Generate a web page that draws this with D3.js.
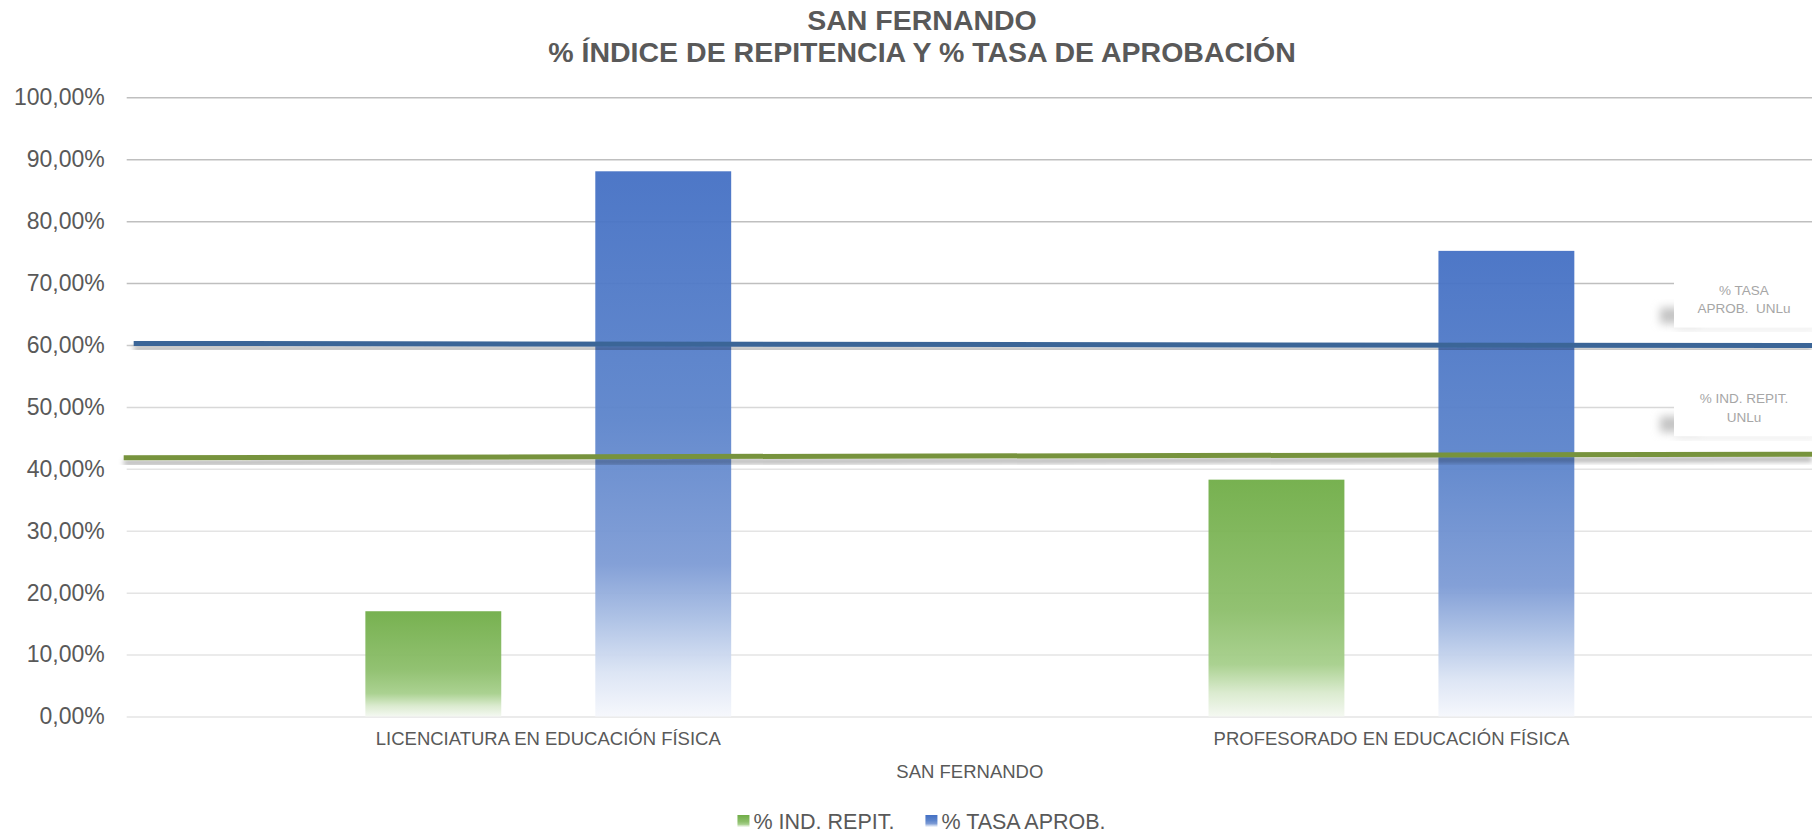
<!DOCTYPE html>
<html>
<head>
<meta charset="utf-8">
<script src="https://cdn.jsdelivr.net/npm/d3@7"></script>
<style>
  body { margin: 0; background: #fff; }
  text { font-family: "Liberation Sans", Arial, sans-serif; fill: #595959; }
</style>
</head>
<body>
<svg id="chart" width="1812" height="838"></svg>
<script>
// data
const categories = ['LICENCIATURA EN EDUCACIÓN FÍSICA', 'PROFESORADO EN EDUCACIÓN FÍSICA']
const seriesNames = ['% IND. REPIT.', '% TASA APROB.']
const indRepit = [0.17, 0.3825]
const tasaAprob = [0.8805, 0.752]
const yTicks = [0, 0.1, 0.2, 0.3, 0.4, 0.5, 0.6, 0.7, 0.8, 0.9, 1]

// UNLu reference lines (hand drawn, slightly tilted)
const refNames = [['% TASA', 'APROB.  UNLu'], ['% IND. REPIT.', 'UNLu']]
const refStart = [0.6025, 0.418]
const refEnd = [0.599, 0.4235]

const titleLines = ['SAN FERNANDO', '% ÍNDICE DE REPITENCIA Y % TASA DE APROBACIÓN']
const axisTitle = 'SAN FERNANDO'

const width = 1812
const plotLeft = 126.7
const plotRight = 1813
const colors = { '% IND. REPIT.': 'green', '% TASA APROB.': 'blue' }
const refColors = ['#3b6597', '#77933c']
const refOffsets = [7, -3]

const svg = d3.select('#chart')
const defs = svg.append('defs')

const addGradient = (id, stops) => {
    const g = defs.append('linearGradient')
        .attr('id', id)
        .attr('x1', 0).attr('y1', 0).attr('x2', 0).attr('y2', 1)
    g.selectAll('stop')
        .data(stops)
        .join('stop')
        .attr('offset', d => d[0])
        .attr('stop-color', d => d[1])
}
addGradient('green', [[0, '#70ad47'], [0.55, '#8cbe6a'], [0.78, '#a6cf8b'], [0.9, '#d9eacd'], [1, '#f4f8f1']])
addGradient('blue', [[0, '#4470c4'], [0.45, '#5c84cb'], [0.72, '#7d9bd5'], [0.82, '#aabfe4'], [0.92, '#dbe4f4'], [1, '#f5f7fc']])

const lineShadow = defs.append('filter').attr('id', 'lineShadow')
    .attr('x', '-5%').attr('y', '-200%').attr('width', '110%').attr('height', '500%')
lineShadow.append('feDropShadow')
    .attr('dx', 0).attr('dy', 5).attr('stdDeviation', 2.5)
    .attr('flood-color', '#000').attr('flood-opacity', 0.32)

const blur = defs.append('filter').attr('id', 'blur')
    .attr('x', '-50%').attr('y', '-50%').attr('width', '200%').attr('height', '200%')
blur.append('feGaussianBlur').attr('stdDeviation', 4)

const y = d3.scaleLinear().domain([0, 1]).range([716.5, 97.3])
const x0 = d3.scaleBand().domain(categories).range([plotLeft, plotRight]).padding(0)
const x1 = d3.scaleBand().domain(seriesNames).range([0, x0.bandwidth()])
    .paddingInner(0.409).paddingOuter(1.038)

const locale = d3.formatLocale({ decimal: ',', thousands: '.', grouping: [3], currency: ['$', ''] })
const pct = locale.format('.2%')
const gridColor = d3.scaleLinear().domain([0.4, 0.7]).range(['#e4e4e4', '#bfbfbf']).clamp(true)

// y axis + gridlines
const yAxis = svg.append('g')
    .attr('transform', `translate(${plotLeft},0)`)
    .call(d3.axisLeft(y).tickValues(yTicks).tickFormat(pct)
        .tickSize(-(width - plotLeft)).tickPadding(22))
yAxis.select('.domain').remove()
yAxis.selectAll('.tick line')
    .attr('stroke', d => gridColor(d))
    .attr('stroke-width', 1.5)
yAxis.selectAll('.tick text')
    .style('font-size', '23px')
    .attr('fill', '#595959')

// bars
const table = categories.map((c, i) => ({ category: c, values: [
    { key: seriesNames[0], value: indRepit[i] },
    { key: seriesNames[1], value: tasaAprob[i] }
] }))

svg.append('g')
    .selectAll('g')
    .data(table)
    .join('g')
    .attr('transform', d => `translate(${x0(d.category)},0)`)
    .selectAll('rect')
    .data(d => d.values)
    .join('rect')
    .attr('x', d => x1(d.key))
    .attr('y', d => y(d.value))
    .attr('width', x1.bandwidth())
    .attr('height', d => y(0) - y(d.value))
    .attr('fill', d => `url(#${colors[d.key]})`)
    .attr('fill-opacity', 0.95)

// reference lines
svg.append('g')
    .selectAll('line')
    .data(refStart)
    .join('line')
    .attr('x1', (d, i) => plotLeft + refOffsets[i])
    .attr('x2', width)
    .attr('y1', d => y(d))
    .attr('y2', (d, i) => y(refEnd[i]))
    .attr('stroke', (d, i) => refColors[i])
    .attr('stroke-width', 5)
    .attr('filter', 'url(#lineShadow)')

// label boxes for the reference lines
const boxW = 140
const boxH = 58
const boxes = svg.append('g')
    .selectAll('g')
    .data(refNames)
    .join('g')
    .attr('transform', (d, i) => `translate(${width - boxW + 2},${y(refEnd[i]) - 18 - boxH})`)
boxes.append('rect')
    .attr('x', -14).attr('y', boxH - 20)
    .attr('width', 40).attr('height', 16)
    .attr('fill', '#c4c4c4')
    .attr('filter', 'url(#blur)')
boxes.append('rect')
    .attr('x', 2).attr('y', boxH - 2)
    .attr('width', boxW).attr('height', 4)
    .attr('fill', '#e2e2e2')
    .attr('filter', 'url(#blur)')
boxes.append('rect')
    .attr('width', boxW).attr('height', boxH)
    .attr('fill', '#fff')
boxes.selectAll('text')
    .data(d => d)
    .join('text')
    .attr('x', boxW / 2)
    .attr('y', (d, i) => 25 + i * 18.5)
    .attr('text-anchor', 'middle')
    .style('font-size', '13.5px')
    .style('white-space', 'pre')
    .style('fill', '#a6a6a6')
    .text(d => d)

// category labels
const xAxis = svg.append('g')
    .attr('transform', `translate(0,${y(0)})`)
    .call(d3.axisBottom(x0).tickSize(0).tickPadding(15))
xAxis.select('.domain').remove()
xAxis.selectAll('.tick text')
    .style('font-size', '18.5px')
    .attr('fill', '#595959')

svg.append('text')
    .attr('x', (plotLeft + plotRight) / 2)
    .attr('y', 778)
    .attr('text-anchor', 'middle')
    .style('font-size', '18.5px')
    .text(axisTitle)

// title
svg.append('g')
    .selectAll('text')
    .data(titleLines)
    .join('text')
    .attr('x', 922)
    .attr('y', (d, i) => 30 + i * 32)
    .attr('text-anchor', 'middle')
    .style('font-size', '28.5px')
    .style('font-weight', 'bold')
    .text(d => d)

// legend
const legend = svg.append('g')
const items = legend.selectAll('g')
    .data(seriesNames)
    .join('g')
items.append('rect')
    .attr('width', 12).attr('height', 12)
    .attr('y', -6)
    .attr('fill', d => `url(#${colors[d]})`)
items.append('text')
    .attr('x', 16)
    .attr('y', 7.5)
    .style('font-size', '21.5px')
    .text(d => d)
let lx = 0
items.each(function () {
    d3.select(this).attr('transform', `translate(${lx},0)`)
    lx += 16 + d3.select(this).select('text').node().getComputedTextLength() + 31
})
const legendW = lx - 31
legend.attr('transform', `translate(${921.5 - legendW / 2},821)`)
</script>
</body>
</html>
